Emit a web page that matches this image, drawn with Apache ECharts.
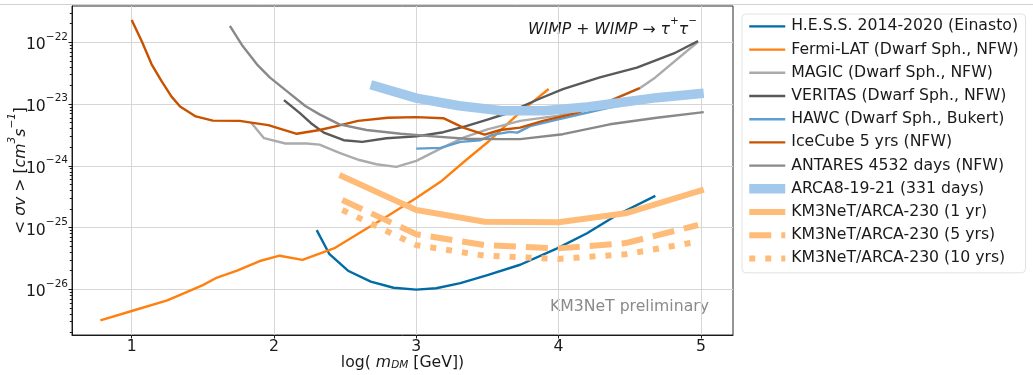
<!DOCTYPE html>
<html>
<head>
<meta charset="utf-8">
<script src="https://cdn.jsdelivr.net/npm/echarts@6/dist/echarts.min.js"></script>
<style>
  html, body { margin: 0; padding: 0; background: #fff; }
  #chart { width: 1033px; height: 375px; }
</style>
</head>
<body>
<div id="chart"></div>
<script>
// x: log10(m_DM / GeV), y: <sigma v> in cm^3 s^-1
const hess = [
  [2.30, 9.1e-26], [2.39, 3.7e-26], [2.52, 2.0e-26], [2.68, 1.33e-26], [2.84, 1.06e-26],
  [3.00, 9.9e-27], [3.14, 1.04e-26], [3.31, 1.26e-26], [3.50, 1.7e-26], [3.73, 2.5e-26],
  [3.99, 4.6e-26], [4.20, 8.1e-26], [4.41, 1.6e-25], [4.68, 3.25e-25],
];
const fermi = [
  [0.78, 3.15e-27], [1.00, 4.45e-27], [1.25, 6.6e-27], [1.39, 9.1e-27], [1.50, 1.17e-26],
  [1.60, 1.55e-26], [1.74, 2.0e-26], [1.90, 2.87e-26], [2.04, 3.5e-26], [2.20, 3.0e-26],
  [2.43, 4.7e-26], [2.62, 8.7e-26], [2.79, 1.5e-25], [3.00, 3.0e-25], [3.17, 5.5e-25],
  [3.35, 1.24e-24], [3.51, 2.5e-24], [3.73, 7.4e-24], [3.93, 1.75e-23],
];
const magic = [
  [1.84, 5.0e-24], [1.93, 2.8e-24], [2.08, 2.3e-24], [2.23, 2.3e-24], [2.32, 2.2e-24],
  [2.46, 1.62e-24], [2.60, 1.24e-24], [2.72, 1.06e-24], [2.86, 9.6e-25], [3.00, 1.2e-24],
  [3.17, 1.9e-24], [3.33, 2.85e-24], [3.50, 3.9e-24], [3.73, 5.35e-24], [4.00, 6.5e-24],
  [4.30, 1.0e-23], [4.57, 1.8e-23], [4.68, 2.7e-23], [4.98, 1.02e-22],
];
const veritas = [
  [2.07, 1.16e-23], [2.18, 7.2e-24], [2.26, 4.9e-24], [2.35, 3.45e-24], [2.49, 2.6e-24],
  [2.62, 2.44e-24], [2.79, 2.8e-24], [3.00, 3.0e-24], [3.19, 3.5e-24], [3.35, 4.4e-24],
  [3.50, 5.6e-24], [3.64, 7.1e-24], [3.75, 9.3e-24], [3.87, 1.23e-23], [4.03, 1.74e-23],
  [4.29, 2.7e-23], [4.55, 3.9e-23], [4.81, 6.6e-23], [4.98, 1.05e-22],
];
const hawc = [
  [3.00, 1.9e-24], [3.17, 1.95e-24], [3.31, 2.44e-24], [3.45, 2.6e-24], [3.54, 3.2e-24],
  [3.66, 3.55e-24], [3.71, 3.45e-24], [3.80, 4.4e-24], [3.99, 5.6e-24], [4.35, 8.7e-24],
  [4.52, 1.05e-23],
];
const icecube = [
  [1.00, 2.3e-22], [1.07, 1.05e-22], [1.14, 4.4e-23], [1.21, 2.35e-23], [1.28, 1.32e-23],
  [1.34, 9.1e-24], [1.45, 6.3e-24], [1.57, 5.4e-24], [1.76, 5.35e-24], [1.84, 5.0e-24],
  [1.96, 4.56e-24], [2.16, 3.3e-24], [2.32, 3.8e-24], [2.44, 4.4e-24], [2.59, 5.35e-24],
  [2.80, 6.0e-24], [3.00, 6.15e-24], [3.19, 5.9e-24], [3.33, 4.15e-24], [3.48, 3.2e-24],
  [3.59, 3.8e-24], [3.73, 4.15e-24], [3.89, 5.35e-24], [4.13, 7.2e-24], [4.36, 1.12e-23],
  [4.57, 1.82e-23],
];
const antares = [
  [1.69, 1.84e-22], [1.78, 8.7e-23], [1.88, 4.4e-23], [1.97, 2.7e-23], [2.09, 1.62e-23],
  [2.22, 9.3e-24], [2.32, 6.8e-24], [2.46, 4.7e-24], [2.65, 3.8e-24], [2.89, 3.3e-24],
  [3.12, 3.0e-24], [3.35, 2.75e-24], [3.59, 2.7e-24], [3.73, 2.7e-24], [4.03, 3.25e-24],
  [4.36, 4.7e-24], [4.69, 6.0e-24], [5.02, 7.4e-24],
];
const arca8 = [
  [2.68, 2.05e-23], [3.00, 1.25e-23], [3.30, 9.4e-24], [3.60, 7.8e-24], [3.90, 7.8e-24],
  [4.20, 9.0e-24], [4.36, 1.0e-23], [4.69, 1.27e-23], [5.02, 1.5e-23],
];
const arca230_1yr = [[2.46, 7.1e-25], [3.00, 1.92e-25], [3.48, 1.24e-25], [4.00, 1.22e-25], [4.47, 1.7e-25], [5.02, 4.1e-25]];
const arca230_5yr = [[2.48, 2.8e-25], [3.00, 7.8e-26], [3.48, 5.2e-26], [4.00, 4.6e-26], [4.47, 5.6e-26], [4.98, 1.1e-25]];
const arca230_10yr = [[2.48, 1.92e-25], [3.00, 5.2e-26], [3.48, 3.5e-26], [4.00, 3.1e-26], [4.47, 3.7e-26], [4.98, 5.9e-26]];

const xTicks = [1, 2, 3, 4, 5];
const yDecades = [-26, -25, -24, -23, -22];
const xMin = 0.5805, xMax = 5.2256;
const yMin = -26.74, yMax = -21.412;

// minor log ticks 2..9 within each decade
const yMinor = [];
for (let n = -27; n <= -22; n++) {
  for (let k = 2; k <= 9; k++) {
    const v = n + Math.log10(k);
    if (v > yMin && v < yMax) yMinor.push(v);
  }
}

const FONT = 'DejaVu Sans';
const INK = '#1a1a1a';
const THIN = 2.4;

function line(name, pts, color, width, dash) {
  return {
    name: name,
    type: 'line',
    data: pts.map((p) => [p[0], Math.log10(p[1])]),
    symbol: 'none',
    silent: true,
    lineStyle: { color: color, width: width, type: dash || 'solid', join: 'round' },
    itemStyle: { color: color },
    emphasis: { disabled: true },
  };
}

const series = [
  line('H.E.S.S. 2014-2020 (Einasto)', hess, '#006BA4', THIN),
  line('Fermi-LAT (Dwarf Sph., NFW)', fermi, '#FF800E', THIN),
  line('MAGIC (Dwarf Sph., NFW)', magic, '#ABABAB', THIN),
  line('VERITAS (Dwarf Sph., NFW)', veritas, '#595959', THIN),
  line('HAWC (Dwarf Sph., Bukert)', hawc, '#5F9ED1', THIN),
  line('IceCube 5 yrs (NFW)', icecube, '#C85200', THIN),
  line('ANTARES 4532 days (NFW)', antares, '#898989', THIN),
  line('ARCA8-19-21 (331 days)', arca8, '#A2C8EC', 9.5),
  line('KM3NeT/ARCA-230 (1 yr)', arca230_1yr, '#FFBC79', 6),
  line('KM3NeT/ARCA-230 (5 yrs)', arca230_5yr, '#FFBC79', 6, [22, 10]),
  line('KM3NeT/ARCA-230 (10 yrs)', arca230_10yr, '#FFBC79', 6, [6, 10]),
];

const legendData = series.map((s) => ({
  name: s.name,
  lineStyle: { width: s.lineStyle.width },
  itemStyle: { opacity: 0 },
}));

const supRich = {
  n: { fontSize: 15.7, lineHeight: 22, verticalAlign: 'bottom', fontFamily: FONT, color: INK },
  i: { fontSize: 15.7, lineHeight: 22, verticalAlign: 'bottom', fontStyle: 'italic', fontFamily: FONT, color: INK },
  s: { fontSize: 10.5, lineHeight: 12, verticalAlign: 'top', fontFamily: FONT, color: INK },
  si: { fontSize: 10.5, lineHeight: 12, verticalAlign: 'top', fontStyle: 'italic', fontFamily: FONT, color: INK },
  sub: { fontSize: 10.5, lineHeight: 12, verticalAlign: 'bottom', fontStyle: 'italic', fontFamily: FONT, color: INK },
};

const option = {
  animation: false,
  backgroundColor: '#fff',
  textStyle: { fontFamily: FONT },
  grid: {
    left: 72, top: 6, width: 661, height: 329,
    containLabel: false, outerBoundsMode: 'none',
    show: true, borderColor: '#2a2a2a', borderWidth: 1, backgroundColor: '#fff',
  },
  legend: {
    orient: 'vertical',
    left: 742, top: 14,
    padding: [4.4, 7, 6.4, 2.5],
    itemWidth: 36, itemHeight: 14, itemGap: 7.2,
    backgroundColor: '#fff', borderColor: '#e2e2e2', borderWidth: 1, borderRadius: 4,
    textStyle: { fontSize: 15.7, lineHeight: 16, color: INK, fontFamily: FONT, padding: [0, 0, 0, 1] },
    selectedMode: false,
    data: legendData,
  },
  xAxis: {
    type: 'value', min: xMin, max: xMax,
    axisLine: { show: true, onZero: false, lineStyle: { color: INK } },
    axisTick: { show: true, length: 3.5, customValues: xTicks, lineStyle: { color: INK } },
    axisLabel: { customValues: xTicks, margin: 4, fontSize: 15.7, color: INK },
    splitLine: { show: true, lineStyle: { color: '#d6d6d6', width: 1 } },
    name: '{n|log( }{i|m}{sub|DM}{n| [GeV])}',
    nameLocation: 'middle', nameGap: 14, nameMoveOverlap: false,
    nameTextStyle: { rich: supRich },
  },
  yAxis: [
    {
      type: 'value', min: yMin, max: yMax, position: 'left',
      axisLine: { show: true, onZero: false, lineStyle: { color: INK } },
      axisTick: { show: true, length: 3.5, customValues: yDecades, lineStyle: { color: INK } },
      axisLabel: {
        customValues: yDecades, margin: 4,
        formatter: (v) => '{n|10}{s|\u2212' + Math.round(-v) + '}',
        rich: supRich,
      },
      splitLine: { show: true, lineStyle: { color: '#d6d6d6', width: 1 } },
      name: '{n|< }{i|\u03c3v}{n| > [}{i|cm}{si|3}{i|s}{si|\u22121}{n|]}',
      nameLocation: 'middle', nameGap: 43, nameRotate: 90, nameMoveOverlap: false,
      nameTextStyle: { rich: supRich },
    },
    {
      // minor log ticks only
      type: 'value', min: yMin, max: yMax, position: 'left', offset: 0,
      axisLine: { show: false, onZero: false },
      axisTick: { show: true, length: 2.2, customValues: yMinor, lineStyle: { color: INK, width: 1 } },
      axisLabel: { show: false },
      splitLine: { show: false },
    },
  ],
  graphic: [
    {
      type: 'line', silent: true,
      shape: { x1: 0, y1: 4.5, x2: 1033, y2: 4.5 },
      style: { stroke: '#d2d2d2', lineWidth: 1 },
    },
    {
      type: 'text', x: 697, y: 27, silent: true,
      style: {
        text: '{i|WIMP}{n| + }{i|WIMP}{n| \u2192 }{i|\u03c4}{s|+}{i|\u03c4}{s|\u2212}',
        align: 'right', verticalAlign: 'middle',
        fontSize: 15.7, fontFamily: FONT, fill: INK,
        rich: supRich,
      },
    },
    {
      type: 'text', x: 709, y: 307, silent: true,
      style: {
        text: 'KM3NeT preliminary',
        align: 'right', verticalAlign: 'middle',
        fontSize: 15.7, fontFamily: FONT, fill: '#8a8a8a',
      },
    },
  ],
  series: series,
};

const chart = echarts.init(document.getElementById('chart'));
chart.setOption(option);
</script>
</body>
</html>
